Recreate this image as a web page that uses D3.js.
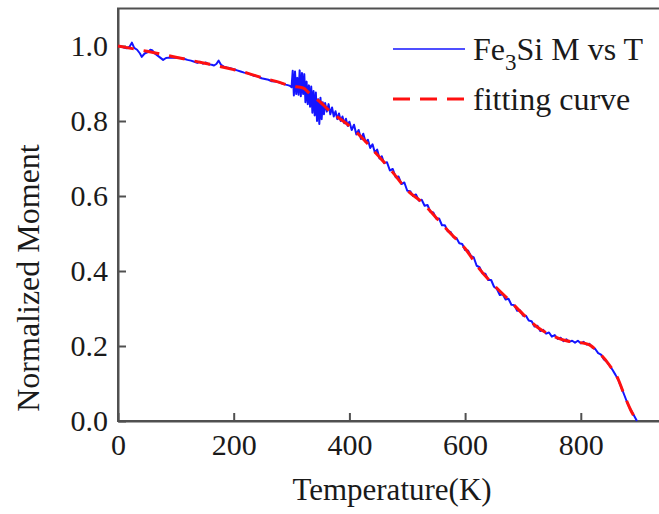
<!DOCTYPE html>
<html>
<head>
<meta charset="utf-8">
<script src="https://cdn.jsdelivr.net/npm/d3@7"></script>
<style>
    html, body { margin: 0; padding: 0; background: #ffffff; }
    #chart { width: 659px; height: 514px; }
    text { font-family: "Liberation Serif", "Times New Roman", serif; fill: #1a1a1a; }
</style>
</head>
<body>
<div id="chart"></div>
<script>
// Tick values
const tempTicks = [0, 200, 400, 600, 800];
const momentTicks = [0.0, 0.2, 0.4, 0.6, 0.8, 1.0];

// Measured M vs T (blue)
const measuredT = [0, 5, 10, 15, 20, 24, 28, 33, 38, 41, 46, 52, 56, 59, 63, 68, 73, 78, 83, 88,
    95, 102, 108, 114, 120, 126, 132, 137, 142, 147, 152, 157, 162, 166, 170, 174, 178, 183, 188, 194,
    200, 206, 212, 218, 224, 230, 236, 242, 248, 254, 260, 266, 272, 278, 284, 290, 295, 298,
    300, 302, 304, 306, 308, 310, 312, 314, 316, 318, 320, 322, 324, 326, 328, 330, 332, 334, 336, 338,
    340, 342, 344, 346, 348, 350, 352, 354, 356, 358, 361, 364, 367, 370, 373, 376, 379, 382, 385, 388,
    391, 394, 397, 400, 404, 408, 412, 416, 420, 424, 428, 432, 436, 440, 444, 448, 452, 456, 460, 465,
    470, 475, 480, 485, 490, 495, 500, 505, 510, 515, 520, 525, 530, 535, 540, 545, 550, 555, 560, 565,
    570, 575, 580, 585, 590, 595, 600, 605, 610, 615, 620, 625, 630, 635, 640, 645, 650, 655, 660, 665,
    670, 675, 680, 685, 690, 695, 700, 705, 710, 715, 720, 725, 730, 735, 740, 745, 750, 755, 760, 765,
    770, 775, 780, 785, 790, 795, 800, 805, 810, 815, 820, 825, 830, 835, 840, 845, 850, 855, 860, 865,
    870, 875, 880, 885, 890, 895, 897];
const measuredM = [1.000, 0.999, 0.996, 0.994, 0.998, 1.009, 0.995, 0.990, 0.980, 0.971, 0.980, 0.984, 0.990, 0.989, 0.981, 0.975, 0.969, 0.963, 0.968, 0.969,
    0.969, 0.969, 0.968, 0.966, 0.963, 0.961, 0.958, 0.955, 0.958, 0.953, 0.956, 0.951, 0.950, 0.948, 0.952, 0.961, 0.950, 0.945, 0.943, 0.941,
    0.938, 0.935, 0.932, 0.929, 0.927, 0.924, 0.920, 0.919, 0.914, 0.912, 0.910, 0.906, 0.905, 0.903, 0.900, 0.897, 0.895, 0.893,
    0.890, 0.934, 0.868, 0.932, 0.872, 0.915, 0.870, 0.935, 0.866, 0.928, 0.872, 0.925, 0.850, 0.905, 0.845, 0.895, 0.838, 0.892, 0.822, 0.880,
    0.815, 0.876, 0.800, 0.858, 0.792, 0.862, 0.805, 0.850, 0.818, 0.848, 0.825, 0.845, 0.818, 0.836, 0.812, 0.826, 0.805, 0.820, 0.800, 0.812,
    0.794, 0.806, 0.787, 0.798, 0.776, 0.790, 0.764, 0.776, 0.752, 0.766, 0.744, 0.750, 0.728, 0.738, 0.716, 0.724, 0.700, 0.706, 0.688, 0.690,
    0.668, 0.672, 0.650, 0.652, 0.632, 0.636, 0.614, 0.613, 0.600, 0.604, 0.588, 0.590, 0.574, 0.576, 0.558, 0.556, 0.540, 0.540, 0.522, 0.522,
    0.506, 0.504, 0.490, 0.488, 0.474, 0.472, 0.456, 0.455, 0.440, 0.436, 0.414, 0.410, 0.394, 0.393, 0.376, 0.376, 0.358, 0.352, 0.336, 0.338,
    0.324, 0.326, 0.310, 0.309, 0.294, 0.295, 0.281, 0.281, 0.268, 0.266, 0.252, 0.254, 0.240, 0.243, 0.233, 0.236, 0.225, 0.229, 0.219, 0.222,
    0.213, 0.218, 0.211, 0.214, 0.209, 0.214, 0.207, 0.211, 0.204, 0.206, 0.196, 0.192, 0.181, 0.177, 0.164, 0.158, 0.147, 0.136, 0.123, 0.109,
    0.090, 0.070, 0.050, 0.033, 0.020, 0.006, 0.000];

// Fitting curve (red dashed)
const fitT = [0, 25, 50, 75, 100, 125, 150, 175, 200, 225, 250, 275, 300, 320, 330, 340, 350, 360, 380, 400,
    425, 450, 475, 500, 525, 550, 575, 600, 625, 650, 675, 700, 725, 750, 775, 800, 815, 830, 850, 865,
    875, 886, 897];
const fitM = [1.000, 0.993, 0.986, 0.978, 0.970, 0.962, 0.954, 0.946, 0.937, 0.927, 0.915, 0.905, 0.893, 0.888, 0.875, 0.862, 0.850, 0.835, 0.810, 0.787,
    0.750, 0.707, 0.663, 0.615, 0.584, 0.542, 0.500, 0.460, 0.405, 0.362, 0.324, 0.285, 0.250, 0.228, 0.214, 0.209, 0.203, 0.184, 0.148, 0.110,
    0.070, 0.030, 0.000];

const legendLabels = ["Fe|3|Si M vs T", "fitting curve"];

const serif = "'Liberation Serif', 'Times New Roman', serif";

class MomentChart {
    constructor(parentElement) {
        this.parentElement = parentElement;
        this.initVis();
    }

    initVis() {
        let vis = this;

        vis.width = 659;
        vis.height = 514;

        vis.svg = d3.select(vis.parentElement)
            .append("svg")
            .attr("width", vis.width)
            .attr("height", vis.height)
            .attr("font-family", serif);

        // Create scales
        vis.x = d3.scaleLinear()
            .domain([0, 940])
            .range([118, 118 + 940 * 0.5785]);

        vis.y = d3.scaleLinear()
            .domain([0, 1.1])
            .range([421, 8.5]);

        // Frame (right side falls outside the picture)
        vis.svg.append("rect")
            .attr("x", vis.x(0))
            .attr("y", vis.y(1.1))
            .attr("width", vis.x(940) - vis.x(0))
            .attr("height", vis.y(0) - vis.y(1.1))
            .attr("fill", "none")
            .attr("stroke", "#505050")
            .attr("stroke-width", 2);

        // Axes, ticks point inward
        vis.xAxis = d3.axisBottom(vis.x)
            .tickValues(tempTicks)
            .tickFormat(d3.format("d"))
            .tickSizeInner(-8)
            .tickSizeOuter(0)
            .tickPadding(13);

        vis.yAxis = d3.axisLeft(vis.y)
            .tickValues(momentTicks)
            .tickFormat(d3.format(".1f"))
            .tickSizeInner(-8)
            .tickSizeOuter(0)
            .tickPadding(10);

        vis.xAxisG = vis.svg.append("g")
            .attr("class", "axis x-axis")
            .attr("transform", `translate(0,${vis.y(0)})`)
            .call(vis.xAxis);

        vis.yAxisG = vis.svg.append("g")
            .attr("class", "axis y-axis")
            .attr("transform", `translate(${vis.x(0)},0)`)
            .call(vis.yAxis);

        vis.svg.selectAll(".axis")
            .attr("font-family", serif)
            .attr("font-size", 30);

        vis.svg.selectAll(".axis .domain, .axis line")
            .attr("stroke", "#505050")
            .attr("stroke-width", 2);

        vis.svg.selectAll(".axis text")
            .attr("fill", "#1a1a1a");

        // Axis labels
        vis.svg.append("text")
            .attr("class", "axis-label")
            .attr("x", 392)
            .attr("y", 500)
            .attr("text-anchor", "middle")
            .style("font-size", "31px")
            .text("Temperature(K)");

        vis.svg.append("text")
            .attr("class", "axis-label")
            .attr("transform", "translate(39,278) rotate(-90)")
            .attr("text-anchor", "middle")
            .style("font-size", "32px")
            .text("Normalized Moment");

        vis.updateVis();
    }

    updateVis() {
        let vis = this;

        const measured = measuredT.map((t, i) => ({t: t, m: measuredM[i]}));
        const fit = fitT.map((t, i) => ({t: t, m: fitM[i]}));

        const lineRaw = d3.line()
            .x(d => vis.x(d.t))
            .y(d => vis.y(d.m));

        const lineFit = d3.line()
            .x(d => vis.x(d.t))
            .y(d => vis.y(d.m))
            .curve(d3.curveMonotoneX);

        vis.svg.append("path")
            .datum(measured)
            .attr("class", "measured-line")
            .attr("fill", "none")
            .attr("stroke", "#1414ff")
            .attr("stroke-width", 2)
            .attr("stroke-linejoin", "round")
            .attr("d", lineRaw);

        vis.svg.append("path")
            .datum(fit)
            .attr("class", "fit-line")
            .attr("fill", "none")
            .attr("stroke", "#ff1010")
            .attr("stroke-width", 3)
            .attr("stroke-dasharray", "16,10")
            .attr("d", lineFit);

        // Legend
        const legend = vis.svg.append("g")
            .attr("class", "legend");

        const items = legend.selectAll(".legend-item")
            .data(legendLabels)
            .join("g")
            .attr("class", "legend-item")
            .attr("transform", (d, i) => `translate(393, ${49 + i * 50})`);

        items.append("line")
            .attr("x1", 0)
            .attr("x2", 72)
            .attr("stroke", (d, i) => i === 0 ? "#1414ff" : "#ff1010")
            .attr("stroke-width", (d, i) => i === 0 ? 1.6 : 3)
            .attr("stroke-dasharray", (d, i) => i === 0 ? null : "17,10");

        items.each(function(d) {
            const txt = d3.select(this).append("text")
                .attr("x", 80)
                .attr("y", 11)
                .style("font-size", "32px");
            const parts = d.split("|");
            if (parts.length === 3) {
                txt.append("tspan").text(parts[0]);
                txt.append("tspan").attr("dy", 10).style("font-size", "23px").text(parts[1]);
                txt.append("tspan").attr("dy", -10).text(parts[2]);
            } else {
                txt.text(d);
            }
        });
    }
}

new MomentChart("#chart");
</script>
</body>
</html>
